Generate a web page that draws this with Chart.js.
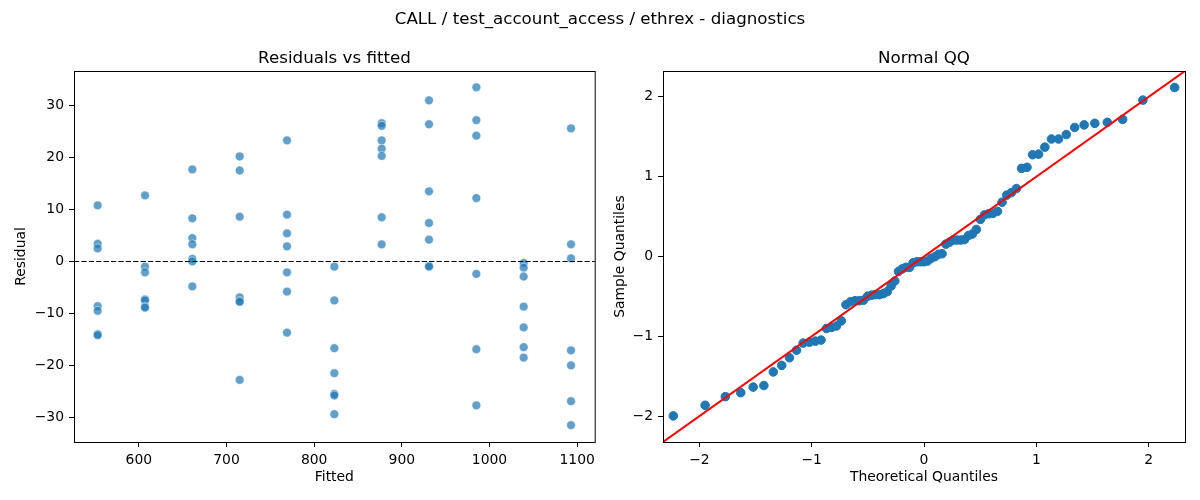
<!DOCTYPE html>
<html><head><meta charset="utf-8">
<script src="https://cdn.jsdelivr.net/npm/chart.js@4.4.0/dist/chart.umd.min.js"></script>
<style>
html,body{margin:0;padding:0;background:#fff;}
#wrap{position:relative;width:1200px;height:500px;overflow:hidden;font-family:'DejaVu Sans',sans-serif;background:#fff;}
canvas{position:absolute;top:0;width:600px;height:500px;}
.t{position:absolute;font-size:16.7px;line-height:1;white-space:nowrap;transform:translateX(-50%);color:#000;}
</style></head><body>
<div id="wrap">
<canvas id="c1" width="600" height="500" style="left:0"></canvas>
<canvas id="c2" width="600" height="500" style="left:600px"></canvas>
<div class="t" style="left:600px;top:10px">CALL / test_account_access / ethrex - diagnostics</div>
<div class="t" style="left:334.5px;top:48.6px">Residuals vs fitted</div>
<div class="t" style="left:924px;top:48.6px">Normal QQ</div>
</div>
<script>
// ---- data ----
const fittedLevels = [553, 607, 661, 715, 769, 823, 877, 931, 985, 1039, 1093];
const residualGroups = [
  [10.8, 3.4, 2.5, -8.6, -9.5, -14.0, -14.2],
  [12.7, -1.0, -2.1, -7.3, -7.5, -8.7, -8.9],
  [17.7, 8.3, 4.5, 3.3, 0.5, 0.0, -4.8],
  [20.2, 17.5, 8.6, -6.9, -7.6, -7.8, -22.8],
  [23.3, 9.0, 5.4, 2.9, -2.1, -5.8, -13.7],
  [-1.0, -7.5, -16.7, -21.5, -25.5, -25.8, -29.4],
  [26.6, 26.1, 23.3, 21.7, 20.3, 8.5, 3.3],
  [31.0, 26.4, 13.5, 7.4, 4.2, -0.85, -1.0],
  [33.5, 27.2, 24.2, 12.2, -2.4, -16.9, -27.7],
  [-0.3, -1.2, -2.9, -8.7, -12.7, -16.5, -18.5],
  [25.6, 3.3, 0.6, -17.1, -20.0, -26.9, -31.5]
];
const residualRefLine = 0;
const fittedTicks = [600, 700, 800, 900, 1000, 1100];
const residualTicks = [-30, -20, -10, 0, 10, 20, 30];

const theoreticalQ = [-2.232,-1.949,-1.769,-1.632,-1.521,-1.426,-1.342,-1.267,-1.198,-1.135,-1.076,-1.020,-0.967,-0.917,-0.869,-0.823,-0.779,-0.736,-0.695,-0.654,-0.615,-0.577,-0.539,-0.502,-0.466,-0.431,-0.396,-0.361,-0.327,-0.293,-0.260,-0.227,-0.194,-0.161,-0.129,-0.097,-0.064,-0.032,0,
0.032,0.064,0.097,0.129,0.161,0.194,0.227,0.260,0.293,0.327,0.361,0.396,0.431,0.466,0.502,0.539,0.577,0.615,0.654,0.695,0.736,0.779,0.823,0.869,0.917,0.967,1.020,1.076,1.135,1.198,1.267,1.342,1.426,1.521,1.632,1.769,1.949,2.232];
const sampleQ = [-1.997,-1.864,-1.756,-1.706,-1.636,-1.617,-1.446,-1.364,-1.269,-1.174,-1.085,-1.073,-1.060,-1.047,-0.902,-0.889,-0.870,-0.807,-0.604,-0.566,-0.554,-0.554,-0.547,-0.497,-0.484,-0.478,-0.478,-0.465,-0.440,-0.370,-0.307,-0.187,-0.155,-0.136,-0.136,-0.079,-0.066,-0.066,-0.066,-0.057,-0.022,-0.003,
0.028,0.035,0.155,0.180,0.206,0.206,0.206,0.212,0.263,0.282,0.339,0.465,0.522,0.535,0.541,0.566,0.680,0.769,0.801,0.851,1.104,1.117,1.275,1.282,1.370,1.472,1.472,1.528,1.617,1.649,1.668,1.681,1.718,1.959,2.117];
const qqTicks = [-2, -1, 0, 1, 2];

// ---- styling helpers ----
Chart.defaults.font.family = "'DejaVu Sans', sans-serif";
Chart.defaults.font.size = 13.9;
Chart.defaults.color = '#000';

const framePlugin = {
  id: 'frame',
  afterDraw(chart) {
    const {ctx, chartArea: a} = chart;
    ctx.save();
    ctx.strokeStyle = '#000';
    ctx.lineWidth = 1;
    ctx.setLineDash([]);
    ctx.strokeRect(a.left + 0.5, a.top + 0.5, a.right - a.left, a.bottom - a.top);
    ctx.restore();
  }
};

const hlinePlugin = {
  id: 'hline',
  afterDatasetsDraw(chart) {
    const {ctx, chartArea: a, scales} = chart;
    const y = scales.y.getPixelForValue(residualRefLine);
    ctx.save();
    ctx.strokeStyle = '#000';
    ctx.lineWidth = 1;
    ctx.setLineDash([5.2, 2.2]);
    ctx.beginPath();
    ctx.moveTo(a.left, Math.round(y) + 0.5);
    ctx.lineTo(a.right, Math.round(y) + 0.5);
    ctx.stroke();
    ctx.restore();
  }
};

const diagPlugin = {
  id: 'diag',
  afterDatasetsDraw(chart) {
    const {ctx, chartArea: a, scales} = chart;
    const lo = Math.max(scales.x.min, scales.y.min);
    const hi = Math.min(scales.x.max, scales.y.max);
    ctx.save();
    ctx.beginPath();
    ctx.rect(a.left, a.top, a.right - a.left, a.bottom - a.top);
    ctx.clip();
    ctx.strokeStyle = '#ff0000';
    ctx.lineWidth = 2;
    ctx.beginPath();
    ctx.moveTo(scales.x.getPixelForValue(lo), scales.y.getPixelForValue(lo));
    ctx.lineTo(scales.x.getPixelForValue(hi), scales.y.getPixelForValue(hi));
    ctx.stroke();
    ctx.restore();
  }
};

function axis(opts) {
  const {min, max, ticks, title, size, horizontal, titlePad} = opts;
  return {
    type: 'linear',
    position: horizontal ? 'bottom' : 'left',
    min, max,
    afterBuildTicks(s) { s.ticks = ticks.map(v => ({value: v})); },
    afterFit(s) { if (horizontal) s.height = size; else s.width = size; },
    grid: {display: true, drawOnChartArea: false, drawTicks: true, tickLength: 5, tickColor: '#000', tickWidth: 1, color: '#000'},
    border: {display: false},
    ticks: {
      padding: 5, color: '#000', autoSkip: false, maxRotation: 0,
      font: {size: 13.9, family: "'DejaVu Sans', sans-serif"},
      callback: v => (v < 0 ? '\u2212' + Math.abs(v) : String(v))
    },
    title: {display: true, text: title, color: '#000', font: {size: 13.9, family: "'DejaVu Sans', sans-serif"}, padding: titlePad}
  };
}

// ---- residuals vs fitted ----
const residPoints = [];
fittedLevels.forEach((f, i) => residualGroups[i].forEach(r => residPoints.push({x: f, y: r})));

new Chart(document.getElementById('c1'), {
  type: 'scatter',
  data: {datasets: [{
    data: residPoints,
    backgroundColor: 'rgba(31,119,180,0.7)',
    borderColor: 'rgba(255,255,255,0.8)',
    borderWidth: 0.6,
    pointRadius: 4.4,
    pointHoverRadius: 4.4
  }]},
  options: {
    responsive: false, animation: false, devicePixelRatio: 1,
    layout: {padding: {left: 0, right: 5, top: 71, bottom: 0}},
    plugins: {legend: {display: false}, tooltip: {enabled: false}, title: {display: false}},
    scales: {
      x: axis({min: 526, max: 1120, ticks: fittedTicks, title: 'Fitted', size: 58, horizontal: true, titlePad: {top: 0, bottom: 14}}),
      y: axis({min: -34.75, max: 36.65, ticks: residualTicks, title: 'Residual', size: 74, horizontal: false, titlePad: {top: 13, bottom: 0}})
    }
  },
  plugins: [hlinePlugin, framePlugin]
});

// ---- normal QQ ----
const qqPoints = theoreticalQ.map((t, i) => ({x: t, y: sampleQ[i]}));

new Chart(document.getElementById('c2'), {
  type: 'scatter',
  data: {datasets: [{
    data: qqPoints,
    backgroundColor: '#1f77b4',
    borderColor: '#1f77b4',
    borderWidth: 1,
    pointRadius: 4.3,
    pointHoverRadius: 4.3
  }]},
  options: {
    responsive: false, animation: false, devicePixelRatio: 1,
    layout: {padding: {left: 0, right: 15, top: 71, bottom: 0}},
    plugins: {legend: {display: false}, tooltip: {enabled: false}, title: {display: false}},
    scales: {
      x: axis({min: -2.324, max: 2.324, ticks: qqTicks, title: 'Theoretical Quantiles', size: 58, horizontal: true, titlePad: {top: 0, bottom: 14}}),
      y: axis({min: -2.324, max: 2.324, ticks: qqTicks, title: 'Sample Quantiles', size: 63, horizontal: false, titlePad: {top: 12, bottom: 0}})
    }
  },
  plugins: [diagPlugin, framePlugin]
});
</script>
</body></html>
